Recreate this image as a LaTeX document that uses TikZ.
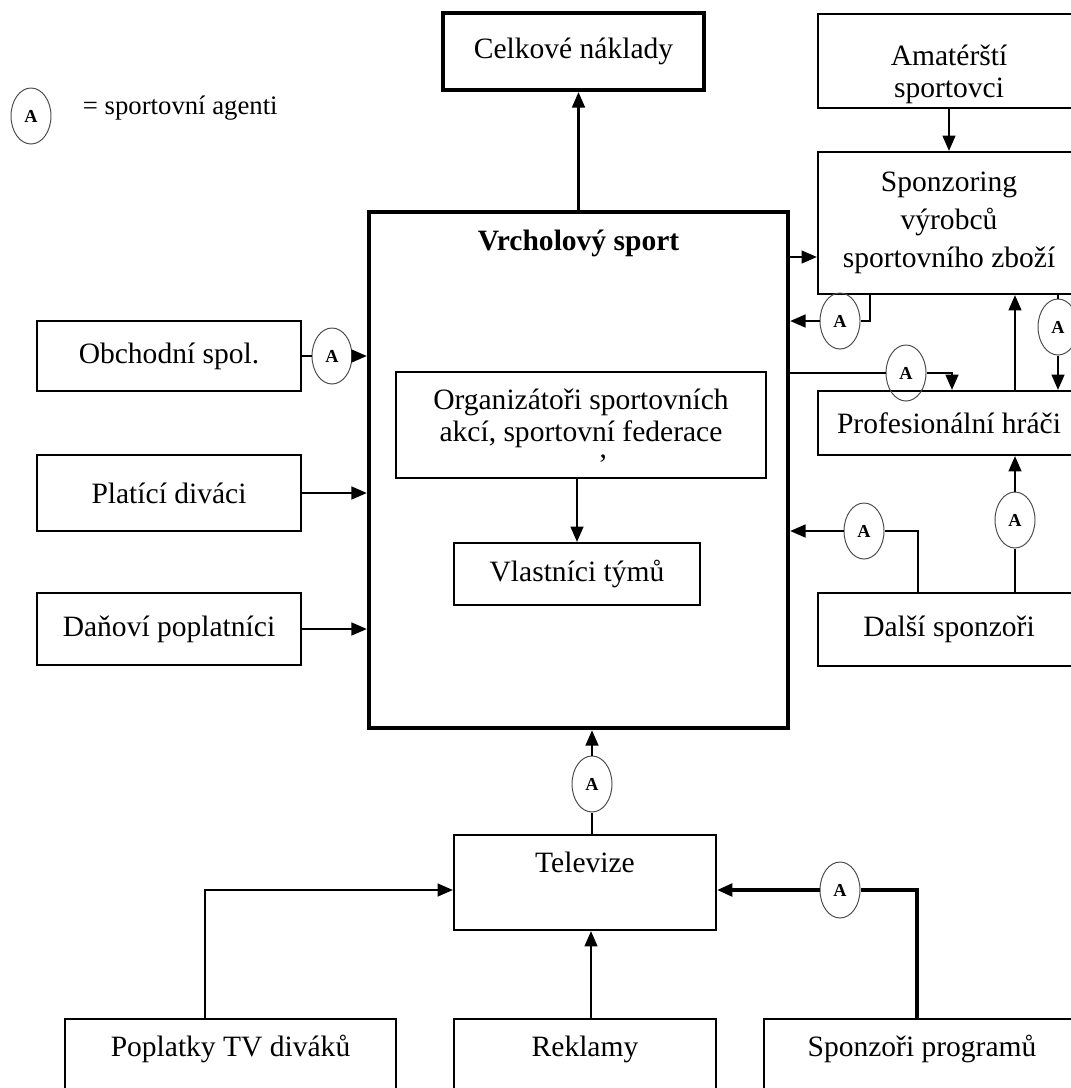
\documentclass[tikz,border=0pt]{standalone}
\usepackage{fontspec}
\setmainfont{Liberation Serif}
\usepackage{tikz}
\usetikzlibrary{shapes.geometric, arrows.meta, positioning, calc}

\newcommand{\boxfont}{\fontsize{21}{23}\selectfont}

\begin{document}
\begin{tikzpicture}[x=0.025cm, y=-0.025cm, font=\boxfont,
    >={Triangle[length=11pt,width=9pt]},
    box/.style={draw, line width=1.4pt, align=center, inner sep=0pt},
    heavy/.style={box, line width=2.9pt},
    agent/.style={ellipse, draw=black!70, line width=0.7pt, inner sep=0pt,
        minimum width=1cm, minimum height=1.4cm, font=\fontsize{13}{14}\selectfont\bfseries},
    conn/.style={line width=1.8pt}]
\path[use as bounding box, clip] (0,0) rectangle (1071,1088);

% legenda
\node[agent] (key) at (31,116) {A};
\node[anchor=west, font=\fontsize{19}{21}\selectfont] (keytext) at (78,108) {= sportovní agenti};

% horni rada
\node[heavy, minimum width=6.525cm, minimum height=1.925cm] (cel) at (573.5,51.5) {Celkové náklady};
\node[box, minimum width=6.55cm, minimum height=2.35cm] (amat) at (949,61) {\rule{0pt}{34pt}Amatérští\\sportovci};
\node[box, minimum width=6.55cm, minimum height=3.55cm, font=\fontsize{21}{27}\selectfont] (spon) at (949,223)
    {Sponzoring\\výrobců\\sportovního zboží};

% vrcholovy sport
\node[heavy, anchor=north, minimum width=10.475cm, text height=0.95cm, text depth=11.95cm,
    font=\boxfont\bfseries] (vrch) at (578.5,210) {Vrcholový sport};
\node[box, minimum width=9.25cm, minimum height=2.65cm] (org) at (581,425)
    {\rule{0pt}{24pt}Organizátoři sportovních\\akcí, sportovní federace\\\hspace*{1.5em}'};
\node[box, minimum width=6.15cm, minimum height=1.55cm] (vlas) at (577,574) {Vlastníci týmů};

% vlevo
\node[box, minimum width=6.6cm, minimum height=1.75cm] (obch) at (169,356) {Obchodní spol.};
\node[box, minimum width=6.6cm, minimum height=1.9cm] (plat) at (169,493) {Platící diváci};
\node[box, minimum width=6.6cm, minimum height=1.8cm] (dan) at (169,629) {Daňoví poplatníci};

% vpravo
\node[box, minimum width=6.55cm, minimum height=1.6cm] (prof) at (949,423) {Profesionální hráči};
\node[box, minimum width=6.55cm, minimum height=1.825cm] (dals) at (949,629.5) {Další sponzoři};

% televize a dole
\node[box, anchor=north, minimum width=6.55cm, text height=0.925cm, text depth=1.45cm] (tv) at (585,834) {Televize};
\node[box, anchor=north, minimum width=8.275cm, text height=0.925cm, text depth=2.5cm] (popl) at (230.5,1018) {Poplatky TV diváků};
\node[box, anchor=north, minimum width=6.55cm, text height=0.925cm, text depth=2.5cm] (rekl) at (585,1018) {Reklamy};
\node[box, anchor=north, minimum width=7.9cm, text height=0.925cm, text depth=2.5cm] (sppr) at (922,1018) {Sponzoři programů};

% agenti
\node[agent] (aObch) at (332,356) {A};
\node[agent] (aSp) at (840,321) {A};
\node[agent] (aPr) at (906,373) {A};
\node[agent] (aR) at (1058,327) {A};
\node[agent] (aD1) at (1015,520) {A};
\node[agent] (aD2) at (864,531) {A};
\node[agent] (aTv) at (592,784) {A};
\node[agent] (aPg) at (840,890) {A};

% spojnice
\draw[conn, ->] (vrch.north) -- (vrch.north |- cel.south);
\draw[conn, ->] (amat.south) -- (spon.north);
\draw[conn, ->] (vrch.east |- 0,257) -- (spon.west |- 0,257);
\draw[conn] (spon.south -| 870,0) |- (aSp);
\draw[conn, ->] (aSp) -- (aSp -| vrch.east);
\draw[line width=0.9pt] (vrch.east |- aPr) -- (aPr);
\draw[conn, ->] (aPr) -| (prof.north -| 952,0);
\draw[conn, ->] (prof.north -| 1015,0) -- (spon.south -| 1015,0);
\draw[conn] (spon.south -| aR) -- (aR);
\draw[conn, ->] (aR) -- (prof.north -| aR);
\draw[conn] (dals.north -| aD1) -- (aD1);
\draw[conn, ->] (aD1) -- (prof.south -| aD1);
\draw[conn] (dals.north -| 918,0) |- (aD2);
\draw[conn, ->] (aD2) -- (aD2 -| vrch.east);
\draw[conn, ->] (vlas.north |- org.south) -- (vlas.north);

\draw[conn] (obch.east) -- (aObch);
\draw[conn, ->] (aObch) -- (aObch -| vrch.west);
\draw[conn, ->] (plat.east) -- (plat.east -| vrch.west);
\draw[conn, ->] (dan.east) -- (dan.east -| vrch.west);

\draw[conn] (tv.north -| aTv) -- (aTv);
\draw[conn, ->] (aTv) -- (vrch.south -| aTv);
\draw[conn, ->] (popl.north -| 205,0) |- (tv.west |- 0,890);
\draw[conn, ->] (rekl.north -| 591,0) -- (tv.south -| 591,0);
\draw[line width=2.6pt] (sppr.north -| 917,0) |- (aPg);
\draw[line width=2.6pt, ->] (aPg) -- (aPg -| tv.east);
\end{tikzpicture}
\end{document}
